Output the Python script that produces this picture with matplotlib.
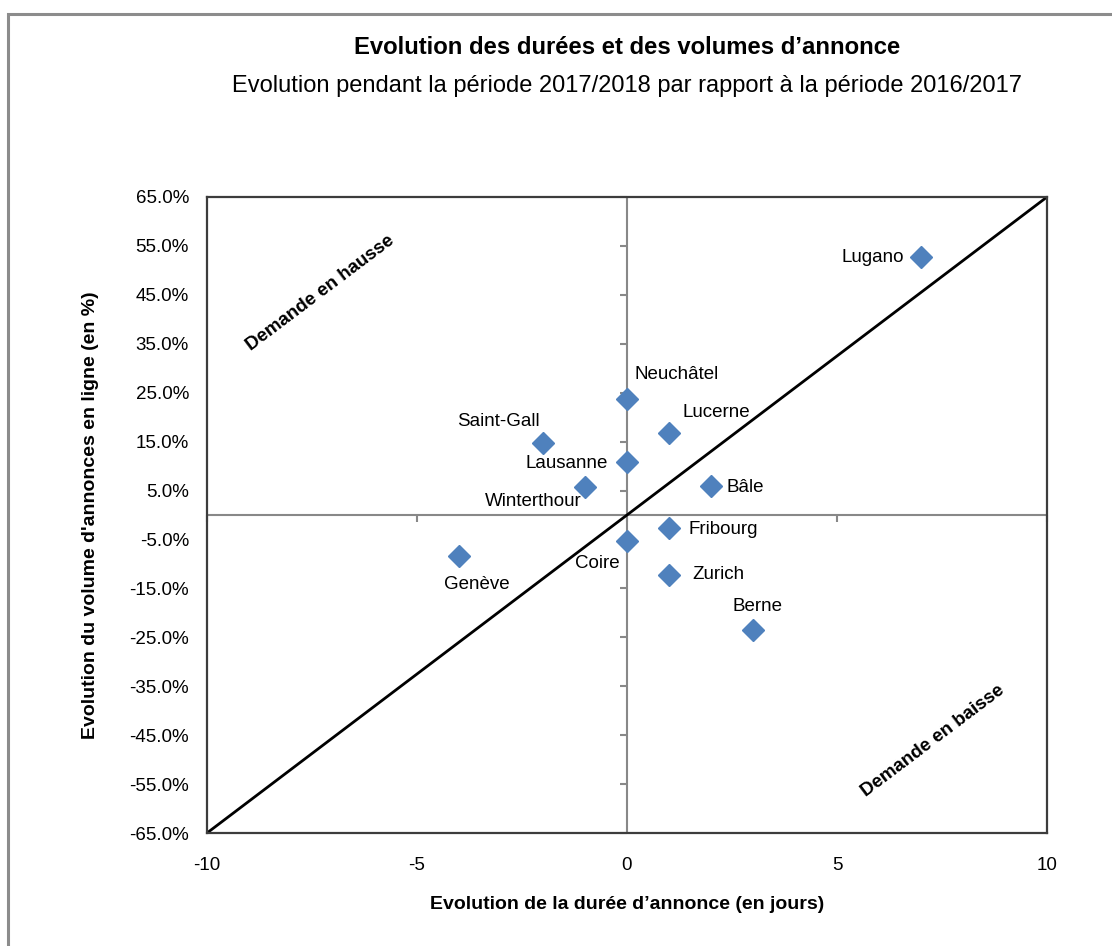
import matplotlib
matplotlib.use("Agg")
import matplotlib.pyplot as plt
import numpy as np

plt.rcParams['font.family'] = ['Liberation Sans', 'DejaVu Sans']
plt.rcParams['axes.unicode_minus'] = False

cities = ["Lugano", "Neuchâtel", "Lucerne", "Saint-Gall", "Lausanne", "Winterthour",
          "Bâle", "Fribourg", "Coire", "Genève", "Zurich", "Berne"]
duree_jours = [7, 0, 1, -2, 0, -1, 2, 1, 0, -4, 1, 3]
volume_pct = [52.7, 23.7, 16.8, 14.7, 10.8, 5.7, 5.9, -2.7, -5.3, -8.4, -12.3, -23.5]

x_ticks = [-10, -5, 0, 5, 10]
y_ticks = [-65, -55, -45, -35, -25, -15, -5, 5, 15, 25, 35, 45, 55, 65]

title = "Evolution des durées et des volumes d’annonce"
subtitle = "Evolution pendant la période 2017/2018 par rapport à la période 2016/2017"
xlabel = "Evolution de la durée d’annonce (en jours)"
ylabel = "Evolution du volume d'annonces en ligne (en %)"

# label offsets in pixels (dx, dy, ha, va)
label_pos = {
    "Lugano": (-17, 0, "right", "center"),
    "Neuchâtel": (7, 25, "left", "center"),
    "Lucerne": (13, 20, "left", "center"),
    "Saint-Gall": (-3, 22, "right", "center"),
    "Lausanne": (-19, -1, "right", "center"),
    "Winterthour": (-3, -14, "right", "center"),
    "Bâle": (15, -1, "left", "center"),
    "Fribourg": (19, -1, "left", "center"),
    "Coire": (-7, -23, "right", "center"),
    "Genève": (18, -28, "center", "center"),
    "Zurich": (23, 1, "left", "center"),
    "Berne": (5, 23, "center", "center"),
}

fig = plt.figure(figsize=(11.12, 9.46), dpi=100)
ax = fig.add_axes([207/1112, 1-833/946, 840/1112, 636/946])

# outer frame
fig.patches.append(plt.Rectangle((7.5/1112, -0.2), 1.2, 1.2 - 13.5/946, transform=fig.transFigure,
                                 fill=False, edgecolor='#8c8c8c', lw=2.2, clip_on=False))

ax.set_xlim(-10, 10)
ax.set_ylim(-65, 65)

# zero lines with tick marks
gray = '#888888'
ax.axhline(0, color=gray, lw=1.5, zorder=1)
ax.axvline(0, color=gray, lw=1.5, zorder=1)
ax.plot(x_ticks, [0]*len(x_ticks), ls='none', marker=3, ms=5, mew=1.5, color=gray, zorder=1, clip_on=False)
ax.plot([0]*len(y_ticks), y_ticks, ls='none', marker=0, ms=5, mew=1.5, color=gray, zorder=1, clip_on=False)

# diagonal
ax.plot([x_ticks[0], x_ticks[-1]], [y_ticks[0], y_ticks[-1]], color='black', lw=2, zorder=2)

# points
ax.plot(duree_jours, volume_pct, ls='none', marker='D', ms=11, color='#4F81BD', zorder=3)

for c, x, y in zip(cities, duree_jours, volume_pct):
    dx, dy, ha, va = label_pos[c]
    ax.annotate(c, (x, y), xytext=(dx, dy), textcoords='offset pixels', ha=ha, va=va,
                fontsize=13.5, color='black', zorder=4)

ax.set_xticks(x_ticks)
ax.set_xticklabels([str(v) for v in x_ticks])
ax.set_yticks(y_ticks)
ax.set_yticklabels([f"{v:.1f}%" for v in y_ticks])
ax.tick_params(length=0, labelsize=13.5)
ax.tick_params(axis='x', pad=17)
ax.tick_params(axis='y', pad=13)
for s in ax.spines.values():
    s.set_color('#3c3c3c')
    s.set_linewidth(1.6)

ax.set_xlabel(xlabel, fontsize=14, fontweight='bold', labelpad=16)
ax.set_ylabel(ylabel, fontsize=14, fontweight='bold', labelpad=22)

ax.text(-7.31, 45.4, "Demande en hausse", rotation=37, ha='center', va='center',
        fontsize=13.5, fontweight='bold', rotation_mode='anchor')
ax.text(7.29, -46.2, "Demande en baisse", rotation=37, ha='center', va='center',
        fontsize=13.5, fontweight='bold', rotation_mode='anchor')

fig.text(627/1112, 1-48/946, title, ha='center', va='center', fontsize=17.2, fontweight='bold')
fig.text(627/1112, 1-86/946, subtitle, ha='center', va='center', fontsize=17)

fig.savefig("out.png", dpi=100, facecolor='white')
